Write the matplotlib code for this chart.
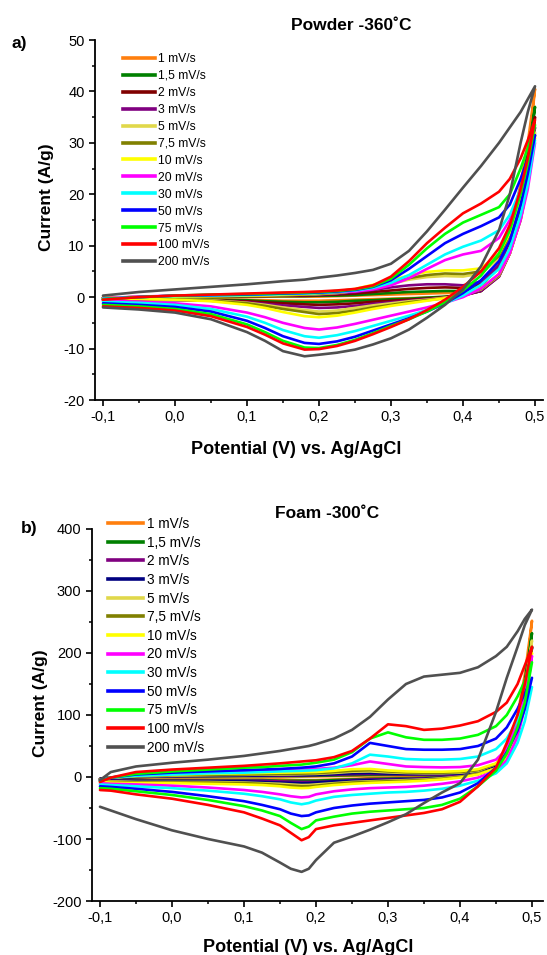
import matplotlib
matplotlib.use('Agg')
import matplotlib.pyplot as plt
from matplotlib.lines import Line2D
from matplotlib.ticker import MultipleLocator

plt.rcParams['font.family'] = ['Liberation Sans', 'DejaVu Sans']

# ---------------- data ----------------
potential_powder = [-0.1, -0.05, 0.0, 0.05, 0.1, 0.125, 0.15, 0.18, 0.2, 0.225, 0.25, 0.275,
                    0.3, 0.325, 0.35, 0.375, 0.4, 0.425, 0.45, 0.465, 0.48, 0.49, 0.5]
potential_foam = [-0.1, -0.085, -0.05, 0.0, 0.05, 0.1, 0.125, 0.15, 0.165, 0.18, 0.19, 0.2, 0.225,
                  0.25, 0.275, 0.3, 0.325, 0.35, 0.375, 0.4, 0.425, 0.45, 0.465, 0.48, 0.49, 0.5]

rate_labels = ['1 mV/s', '1,5 mV/s', '2 mV/s', '3 mV/s', '5 mV/s', '7,5 mV/s', '10 mV/s',
               '20 mV/s', '30 mV/s', '50 mV/s', '75 mV/s', '100 mV/s', '200 mV/s']

colors_powder = ['#FF7F0E', '#008000', '#800000', '#800080', '#E0D84A', '#808000', '#FFFF00',
                 '#FF00FF', '#00FFFF', '#0000FF', '#00FF00', '#FF0000', '#505050']
colors_foam = ['#FF7F0E', '#008000', '#800080', '#000080', '#E0D84A', '#808000', '#FFFF00',
               '#FF00FF', '#00FFFF', '#0000FF', '#00FF00', '#FF0000', '#505050']

# Powder -360 C  (A/g), forward (anodic) and reverse (cathodic) branches
powder_1_fwd = [-0.1, 0.0, 0.1, 0.1, 0.1, 0.1, 0.1, 0.1, 0.1, 0.2, 0.3, 0.4, 0.5, 0.6, 0.7, 0.8, 0.9, 2.0, 6.5, 12.5, 22, 30, 40.5]
powder_1_rev = [-0.3, -0.3, -0.3, -0.4, -0.5, -0.6, -0.7, -0.7, -0.7, -0.6, -0.5, -0.4, -0.3, -0.2, -0.1, 0.0, 0.3, 1.2, 4.5, 9.5, 18, 27, 40.5]
powder_1p5_fwd = [-0.1, 0.0, 0.1, 0.1, 0.2, 0.2, 0.2, 0.2, 0.3, 0.3, 0.4, 0.6, 0.8, 1.0, 1.1, 1.2, 1.2, 2.2, 6.0, 11.5, 20.5, 28, 37]
powder_1p5_rev = [-0.4, -0.4, -0.4, -0.5, -0.6, -0.8, -0.9, -1.0, -1.0, -0.9, -0.7, -0.6, -0.4, -0.3, -0.1, 0.1, 0.4, 1.2, 4.2, 9, 17, 25.5, 37]
powder_2_fwd = [-0.1, 0.0, 0.1, 0.2, 0.2, 0.2, 0.3, 0.3, 0.4, 0.5, 0.7, 1.0, 1.3, 1.6, 1.8, 1.9, 1.8, 2.6, 6.0, 11, 19.5, 27, 35]
powder_2_rev = [-0.5, -0.5, -0.5, -0.6, -0.8, -1.0, -1.2, -1.4, -1.5, -1.4, -1.2, -0.9, -0.7, -0.5, -0.3, 0.0, 0.4, 1.2, 4.0, 8.5, 16, 24, 35]
powder_3_fwd = [-0.1, 0.0, 0.1, 0.2, 0.3, 0.3, 0.4, 0.4, 0.5, 0.7, 1.0, 1.4, 1.9, 2.3, 2.5, 2.5, 2.3, 3.0, 6.2, 11, 19, 26, 33]
powder_3_rev = [-0.6, -0.6, -0.6, -0.7, -1.0, -1.3, -1.6, -1.9, -2.1, -2.0, -1.7, -1.3, -1.0, -0.7, -0.4, -0.1, 0.3, 1.2, 4.0, 8.5, 15.5, 23, 33]
powder_5_fwd = [-0.1, 0.0, 0.1, 0.2, 0.3, 0.3, 0.4, 0.5, 0.6, 0.8, 1.2, 1.8, 2.6, 3.4, 3.9, 4.1, 4.0, 4.6, 7.5, 12, 19, 25.5, 32]
powder_5_rev = [-0.3, -0.3, -0.4, -0.6, -1.1, -1.5, -2.0, -2.5, -2.8, -2.6, -2.1, -1.6, -1.2, -0.8, -0.5, -0.1, 0.4, 1.5, 4.2, 8.5, 15, 22.5, 32]
powder_7p5_fwd = [-0.1, 0.0, 0.1, 0.2, 0.3, 0.4, 0.4, 0.5, 0.7, 0.9, 1.3, 2.0, 2.9, 3.7, 4.3, 4.6, 4.5, 5.0, 8.0, 12.2, 19, 25, 31.5]
powder_7p5_rev = [-0.3, -0.3, -0.4, -0.7, -1.2, -1.7, -2.3, -2.9, -3.3, -3.1, -2.6, -2.0, -1.5, -1.0, -0.6, -0.2, 0.4, 1.6, 4.3, 8.5, 15, 22, 31.5]
powder_10_fwd = [-0.1, 0.0, 0.1, 0.2, 0.3, 0.4, 0.5, 0.6, 0.8, 1.1, 1.6, 2.4, 3.3, 4.2, 4.9, 5.2, 5.2, 5.6, 8.5, 12.5, 19, 24.5, 31]
powder_10_rev = [-0.3, -0.4, -0.5, -0.8, -1.5, -2.1, -2.9, -3.7, -3.9, -3.6, -3.0, -2.3, -1.7, -1.2, -0.7, -0.2, 0.5, 1.8, 4.5, 8.5, 15.5, 22, 31]
powder_20_fwd = [-0.2, 0.1, 0.3, 0.4, 0.5, 0.6, 0.7, 0.8, 0.9, 1.0, 1.1, 1.5, 2.3, 3.7, 5.5, 7.2, 8.3, 9.0, 11.5, 15, 20.5, 25, 30]
powder_20_rev = [-0.7, -0.9, -1.2, -1.8, -3.0, -3.9, -5.0, -6.0, -6.3, -5.9, -5.2, -4.4, -3.6, -2.8, -2.0, -1.1, 0.0, 1.7, 4.5, 8.5, 15, 21, 30]
powder_30_fwd = [-0.3, 0.0, 0.2, 0.3, 0.4, 0.5, 0.6, 0.7, 0.8, 1.0, 1.3, 1.8, 2.8, 4.3, 6.3, 8.3, 9.8, 11.0, 13.0, 16.0, 21.0, 25.5, 30.5]
powder_30_rev = [-0.9, -1.1, -1.5, -2.3, -3.8, -5.0, -6.4, -7.6, -7.9, -7.4, -6.6, -5.6, -4.6, -3.6, -2.5, -1.2, 0.3, 2.4, 5.5, 9.5, 16.0, 22.0, 30.5]
powder_50_fwd = [-0.4, 0.0, 0.3, 0.4, 0.5, 0.6, 0.7, 0.8, 0.9, 1.1, 1.4, 2.0, 3.3, 5.5, 8.0, 10.5, 12.3, 13.8, 15.5, 18.0, 23.0, 27.0, 31.5]
powder_50_rev = [-1.2, -1.5, -1.9, -2.8, -4.6, -6.0, -7.6, -8.9, -9.1, -8.6, -7.7, -6.5, -5.3, -4.1, -2.8, -1.2, 0.8, 3.3, 7.0, 11.0, 18.0, 24.0, 31.5]
powder_75_fwd = [-0.4, 0.0, 0.3, 0.5, 0.6, 0.7, 0.8, 0.9, 1.0, 1.2, 1.5, 2.1, 3.6, 6.3, 9.5, 12.3, 14.5, 16.0, 17.5, 20.0, 25.0, 29.0, 33.5]
powder_75_rev = [-1.5, -1.8, -2.3, -3.3, -5.3, -6.8, -8.5, -9.8, -9.9, -9.3, -8.3, -7.0, -5.6, -4.3, -2.8, -1.0, 1.3, 4.2, 8.5, 13.0, 20.0, 26.0, 33.5]
powder_100_fwd = [-0.5, 0.0, 0.3, 0.5, 0.7, 0.8, 0.9, 1.0, 1.1, 1.3, 1.6, 2.3, 4.0, 7.0, 10.5, 13.5, 16.3, 18.2, 20.5, 23.0, 27.0, 30.5, 34.5]
powder_100_rev = [-1.8, -2.1, -2.6, -3.7, -5.8, -7.3, -9.0, -10.2, -10.1, -9.5, -8.5, -7.2, -5.8, -4.3, -2.5, -0.5, 2.0, 5.0, 9.5, 14.0, 21.0, 27.0, 34.5]
powder_200_fwd = [0.3, 1.0, 1.5, 2.0, 2.5, 2.8, 3.1, 3.4, 3.8, 4.2, 4.7, 5.3, 6.5, 9.0, 12.8, 17.0, 21.3, 25.5, 30.0, 33.0, 36.0, 38.5, 41.0]
powder_200_rev = [-2.0, -2.4, -3.0, -4.3, -6.8, -8.5, -10.5, -11.5, -11.2, -10.8, -10.2, -9.2, -8.0, -6.3, -4.0, -1.5, 1.5, 6.0, 13.0, 20.0, 30.0, 36.0, 41.0]

# Foam -300 C  (A/g)
foam_1_fwd = [-3, -1, 0, 1, 1, 1, 1, 1, 1, 1, 1, 1, 1.5, 2, 2.5, 2.5, 2.5, 2.5, 2.5, 3, 6, 20, 45, 100, 165, 252]
foam_1_rev = [-3.5, -3.8, -4, -4, -4, -4, -4, -4, -4.5, -5, -5, -5, -4, -3, -2, -2, -1.5, -1, 0, 1, 5, 15, 35, 80, 140, 252]
foam_1p5_fwd = [-3, -1, 0, 1, 1, 1.5, 1.5, 1.5, 1.5, 1.5, 1.8, 2, 2.5, 3, 3.5, 3.5, 3.5, 3.5, 3.5, 4, 7, 20, 43, 95, 155, 232]
foam_1p5_rev = [-4, -4.5, -5, -5, -5, -5, -5, -6, -6, -6, -6, -6, -5, -4, -3, -2.5, -2, -1.5, -0.5, 1, 5, 15, 34, 75, 130, 232]
foam_2_fwd = [-3, -1, 0, 1, 1.5, 2, 2, 2, 2.2, 2.5, 2.8, 3, 3.5, 4.5, 5, 4.5, 4, 4, 4, 4.5, 7.5, 19, 40, 88, 140, 208]
foam_2_rev = [-4.5, -5.5, -6, -6, -6, -6, -6, -7, -7.5, -8, -8, -8, -7, -5, -4, -3.5, -3, -2, -1, 1, 5, 14, 32, 70, 118, 208]
foam_3_fwd = [-3, -1, 0, 1.5, 2, 2.5, 2.5, 3, 3, 3, 3.2, 3.5, 4.5, 6, 6.5, 5.5, 5, 5, 5, 5.5, 8, 19, 40, 88, 140, 210]
foam_3_rev = [-5, -6, -7, -7, -7, -7, -8, -9, -9.5, -10, -9.8, -9, -7, -6, -5, -4.5, -4, -3, -1.5, 0.5, 5, 14, 32, 70, 118, 210]
foam_5_fwd = [-4, -1, 1, 2, 3, 3.5, 4, 4, 4.2, 4.5, 4.8, 5, 6.5, 8.5, 9, 7.5, 6.5, 6, 6, 7, 10, 21, 42, 90, 145, 220]
foam_5_rev = [-6, -7, -8, -8, -8, -9, -10, -11, -12, -13, -12.8, -12, -10, -8, -7, -6, -5, -4, -2, 0.5, 5, 14, 32, 72, 122, 220]
foam_7p5_fwd = [-4, -1, 1.5, 3, 3.5, 4, 4.5, 5, 5.2, 5.5, 5.8, 6, 8, 10, 11, 9, 7.5, 7, 7, 8, 11, 21, 40, 86, 138, 210]
foam_7p5_rev = [-7, -8, -9, -9, -9, -10, -11, -13, -14, -15, -14.8, -14, -11, -9, -8, -7, -6, -5, -3, 0, 5, 14, 31, 70, 118, 210]
foam_10_fwd = [-5, -1, 2, 4, 5, 6, 6.5, 7, 7.2, 7.5, 7.8, 8, 10, 12.5, 13, 10.5, 9, 8.5, 8.5, 9.5, 12.5, 22, 40, 85, 135, 200]
foam_10_rev = [-8, -9, -10, -10, -11, -12, -13, -15, -17, -18, -17.6, -16, -13, -11, -9.5, -8.5, -7.5, -6, -4, -1, 4, 14, 30, 68, 115, 200]
foam_20_fwd = [-5, -1, 3, 6, 8, 9, 10, 11, 11.5, 12, 12.5, 13, 15, 19, 25, 21, 17, 16, 15.5, 16, 19, 28, 45, 88, 135, 195]
foam_20_rev = [-10, -11, -12, -14, -17, -21, -24, -28, -31, -33, -32, -28, -23, -20, -18, -17, -16, -14, -11, -7, -1, 10, 27, 65, 112, 195]
foam_30_fwd = [-5, -1, 2, 4, 6, 7, 8, 9, 9.5, 10, 10.5, 11, 14, 22, 36, 33, 29, 28, 28, 29, 33, 45, 62, 92, 118, 145]
foam_30_rev = [-12, -13, -15, -18, -22, -27, -31, -36, -41, -44, -42, -38, -32, -29, -27, -25, -24, -22, -19, -14, -6, 6, 22, 55, 90, 145]
foam_50_fwd = [-6, -1, 4, 7, 9, 11, 12, 13, 14, 15, 16, 17, 22, 33, 55, 50, 45, 44, 44, 45, 50, 62, 80, 110, 135, 160]
foam_50_rev = [-15, -16, -19, -24, -31, -39, -45, -52, -59, -63, -62, -57, -50, -46, -43, -41, -39, -37, -33, -25, -10, 15, 40, 75, 110, 160]
foam_75_fwd = [-7, -1, 5, 9, 12, 15, 16, 18, 19, 20, 21.5, 23, 28, 40, 62, 72, 64, 60, 60, 62, 68, 82, 100, 130, 155, 185]
foam_75_rev = [-18, -19, -23, -29, -37, -47, -54, -63, -74, -84, -80, -70, -64, -59, -56, -54, -52, -50, -45, -35, -15, 10, 38, 80, 120, 185]
foam_100_fwd = [-8, -1, 8, 12, 15, 18, 20, 22, 23.5, 25, 26, 27, 32, 42, 62, 85, 82, 76, 78, 83, 90, 105, 120, 150, 180, 210]
foam_100_rev = [-21, -22, -28, -35, -45, -57, -67, -78, -90, -102, -97, -84, -78, -74, -70, -66, -62, -58, -52, -40, -15, 15, 55, 100, 150, 210]
foam_200_fwd = [-5, 8, 17, 23, 28, 34, 38, 42, 45, 48, 50, 53, 62, 76, 97, 125, 150, 162, 165, 168, 177, 195, 210, 235, 255, 270]
foam_200_rev = [-48, -54, -68, -86, -100, -112, -122, -138, -148, -153, -148, -134, -106, -96, -85, -73, -60, -42, -25, -10, 28, 105, 160, 210, 245, 270]

powder_fwd = [powder_1_fwd, powder_1p5_fwd, powder_2_fwd, powder_3_fwd, powder_5_fwd, powder_7p5_fwd,
              powder_10_fwd, powder_20_fwd, powder_30_fwd, powder_50_fwd, powder_75_fwd, powder_100_fwd,
              powder_200_fwd]
powder_rev = [powder_1_rev, powder_1p5_rev, powder_2_rev, powder_3_rev, powder_5_rev, powder_7p5_rev,
              powder_10_rev, powder_20_rev, powder_30_rev, powder_50_rev, powder_75_rev, powder_100_rev,
              powder_200_rev]
foam_fwd = [foam_1_fwd, foam_1p5_fwd, foam_2_fwd, foam_3_fwd, foam_5_fwd, foam_7p5_fwd, foam_10_fwd,
            foam_20_fwd, foam_30_fwd, foam_50_fwd, foam_75_fwd, foam_100_fwd, foam_200_fwd]
foam_rev = [foam_1_rev, foam_1p5_rev, foam_2_rev, foam_3_rev, foam_5_rev, foam_7p5_rev, foam_10_rev,
            foam_20_rev, foam_30_rev, foam_50_rev, foam_75_rev, foam_100_rev, foam_200_rev]

x_ticks = [-0.1, 0.0, 0.1, 0.2, 0.3, 0.4, 0.5]
x_ticklabels = ['-0,1', '0,0', '0,1', '0,2', '0,3', '0,4', '0,5']

# ---------------- figure ----------------
W, H = 547, 955
fig = plt.figure(figsize=(W / 100, H / 100), dpi=100)


def px_rect(l, t, r, b):
    return [l / W, 1 - b / H, (r - l) / W, (b - t) / H]


axA = fig.add_axes(px_rect(95, 40, 543, 400))
axB = fig.add_axes(px_rect(92, 529, 543, 901))


def draw_panel(ax, pot, fwd, rev, colors):
    for f, r, c in zip(fwd, rev, colors):
        xs = list(pot) + list(pot[::-1][1:])
        ys = list(f) + list(r[::-1][1:])
        ax.plot(xs, ys, color=c, lw=1.9, solid_joinstyle='round', solid_capstyle='round')


def style_axes(ax, ylim, ymajor, yminor, xlim):
    ax.set_xlim(*xlim)
    ax.set_ylim(*ylim)
    for s in ['top', 'right']:
        ax.spines[s].set_visible(False)
    for s in ['left', 'bottom']:
        ax.spines[s].set_linewidth(1.3)
    ax.set_xticks(x_ticks)
    ax.set_xticklabels(x_ticklabels)
    ax.xaxis.set_minor_locator(MultipleLocator(0.05))
    ax.yaxis.set_major_locator(MultipleLocator(ymajor))
    ax.yaxis.set_minor_locator(MultipleLocator(yminor))
    ax.tick_params(which='major', direction='out', length=4.5, width=1.2, labelsize=10.5, pad=3)
    ax.tick_params(which='minor', direction='out', length=2.5, width=1.1)
    ax.patch.set_alpha(0)


draw_panel(axA, potential_powder, powder_fwd, powder_rev, colors_powder)
draw_panel(axB, potential_foam, foam_fwd, foam_rev, colors_foam)
style_axes(axA, (-20, 50), 10, 5, (-0.1111, 0.5111))
style_axes(axB, (-200, 400), 100, 50, (-0.1111, 0.5153))
axA.set_yticklabels([f'{int(v)}' for v in axA.get_yticks()])
axB.set_yticklabels([f'{int(v)}' for v in axB.get_yticks()])


def legend(ax, colors, fs, x, y, hl, htp, ls):
    handles = [Line2D([0], [0], color=c, lw=2.6) for c in colors]
    ax.legend(handles, rate_labels, loc='upper left', bbox_to_anchor=(x / W, 1 - y / H),
              bbox_transform=fig.transFigure, frameon=False, fontsize=fs, handlelength=hl,
              handletextpad=htp, labelspacing=ls, borderpad=0, borderaxespad=0)


legend(axA, colors_powder, 8.7, 123, 53, 2.65, 0.25, 0.41)
legend(axB, colors_foam, 9.8, 108, 517, 2.55, 0.3, 0.34)

# titles, labels
fig.text(351 / W, 1 - 25 / H, 'Powder -360˚C', ha='center', va='center', fontsize=12.5, fontweight='bold')
fig.text(327 / W, 1 - 514 / H, 'Foam -300˚C', ha='center', va='center', fontsize=12.5, fontweight='bold')
fig.text(19 / W, 1 - 43 / H, 'a)', ha='center', va='center', fontsize=12.5, fontweight='bold')
fig.text(29 / W, 1 - 528 / H, 'b)', ha='center', va='center', fontsize=12.5, fontweight='bold')
fig.text(296 / W, 1 - 450 / H, 'Potential (V) vs. Ag/AgCl', ha='center', va='center', fontsize=13, fontweight='bold')
fig.text(308 / W, 1 - 947 / H, 'Potential (V) vs. Ag/AgCl', ha='center', va='center', fontsize=13, fontweight='bold')
fig.text(47 / W, 1 - 197 / H, 'Current (A/g)', ha='center', va='center', rotation=90, fontsize=12.5, fontweight='bold')
fig.text(40 / W, 1 - 703 / H, 'Current (A/g)', ha='center', va='center', rotation=90, fontsize=12.5, fontweight='bold')

fig.savefig('out.png', dpi=100)
